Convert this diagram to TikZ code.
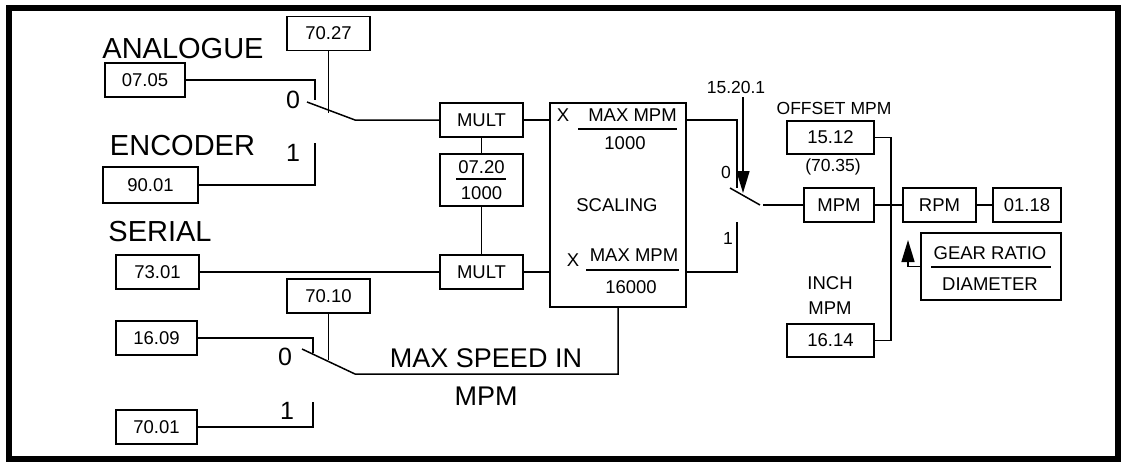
\documentclass[tikz,border=0pt]{standalone}
\usepackage{fontspec}
\setmainfont{Liberation Sans}
\usetikzlibrary{arrows.meta}

\tikzset{
  box/.style={draw, rectangle, inner sep=0pt, minimum height=34pt},
  lbl/.style={inner sep=0pt},
  big/.style={inner sep=0pt, font=\fontsize{29}{32}\selectfont},
  sel/.style={inner sep=0pt, font=\fontsize{25}{28}\selectfont},
  small/.style={inner sep=0pt, font=\fontsize{17.5}{20}\selectfont}
}

\begin{document}
\begin{tikzpicture}[x=1pt, y=-1pt, line width=1.5pt, every node/.style={font=\fontsize{18.5}{21}\selectfont}, >={Triangle[length=22pt, width=13pt]}]
	\useasboundingbox (0,0) rectangle (1121,464);
	\draw[line width=6pt] (9,8) rectangle (1118,459);
	% input boxes
	\node[box, minimum width=83pt] (p7027) at (328.5,33.5) {70.27};
	\node[box, minimum width=80pt] (p0705) at (145,80) {07.05};
	\node[box, minimum width=95pt, minimum height=36pt] (p9001) at (150.5,185) {90.01};
	\node[box, minimum width=83pt] (p7301) at (157.5,272) {73.01};
	\node[box, minimum width=83pt] (p7010) at (328.5,296) {70.10};
	\node[box, minimum width=81pt] (p1609) at (156.5,338) {16.09};
	\node[box, minimum width=81pt] (p7001) at (156.5,427) {70.01};
	\node[big] (tana) at (183,49) {ANALOGUE};
	\node[big] (tenc) at (182.5,146) {ENCODER};
	\node[big] (tser) at (160,232) {SERIAL};
	% analogue / encoder selector
	\coordinate (a0) at (315,100);
	\coordinate (a1) at (315,143);
	\coordinate (ab) at (307,102);
	\coordinate (ae) at (355,120);
	\node[sel] at (293,100) {0};
	\node[sel] at (293,153) {1};
	\draw (p0705.east) -- (a0 |- p0705.east) -- (a0);
	\draw (p9001.east) -- (a1 |- p9001.east) -- (a1);
	\draw (p7027.south) -- (328.5,113);
	% multipliers
	\node[box, minimum width=83pt] (mult1) at (481.5,120) {MULT};
	\node[box, minimum width=83pt, minimum height=52pt] (ratio) at (481.5,180) {};
	\node[box, minimum width=83pt] (mult2) at (481.5,272) {MULT};
	\node[lbl] at (481.5,167) {07.20};
	\draw (456,179) -- (506,179);
	\node[lbl] at (481.5,193) {1000};
	\draw (ab) -- (ae) -- (mult1.west);
	\draw (mult1) -- (ratio) -- (mult2);
	\draw (p7301.east) -- (mult2.west);
	% scaling
	\node[box, minimum width=136pt, minimum height=204pt] (scal) at (618,205) {};
	\node[lbl] at (563,115) {X};
	\node[lbl] at (632.5,115) {MAX MPM};
	\draw (578,129) -- (677,129);
	\node[lbl] at (625,143) {1000};
	\node[lbl] at (617,205) {SCALING};
	\node[lbl] at (573,260) {X};
	\node[lbl] at (634,255) {MAX MPM};
	\draw (586,270) -- (679,270);
	\node[lbl] at (631,287) {16000};
	\draw (mult1.east) -- (scal.west |- mult1.east);
	\draw (mult2.east) -- (scal.west |- mult2.east);
	% max speed selector
	\coordinate (m0) at (313,353);
	\coordinate (m1) at (313,402);
	\node[sel] at (285,357) {0};
	\node[sel] at (287,411) {1};
	\draw (p1609.east) -- (m0 |- p1609.east) -- (m0);
	\draw (p7001.east) -- (m1 |- p7001.east) -- (m1);
	\draw (p7010.south) -- (328.5,360);
	\draw (302,349) -- (355,374) -- (scal.south |- 0,374) -- (scal.south);
	\node[big, font=\fontsize{27}{30}\selectfont] at (486,358) {MAX SPEED IN};
	\node[big, font=\fontsize{27}{30}\selectfont] at (486,396) {MPM};
	% output selector
	\coordinate (s0) at (737,188);
	\coordinate (s1) at (737,222);
	\node[small] at (726,172) {0};
	\node[small] at (728,238) {1};
	\draw (scal.east |- 0,120) -- (s0 |- 0,120) -- (s0);
	\draw (scal.east |- 0,272) -- (s1 |- 0,272) -- (s1);
	\draw (730,188) -- (760,205);
	\node[small] (t1520) at (736,87) {15.20.1};
	\draw[->] (743,97) -- (743,193);
	% output chain
	\node[small] at (834,108) {OFFSET MPM};
	\node[box, minimum width=87pt, minimum height=33pt] (p1512) at (830.5,137.5) {15.12};
	\node[small] at (833,167) {(70.35)};
	\node[box, minimum width=70pt] (mpm) at (839,205) {MPM};
	\node[box, minimum width=73pt] (rpm) at (939.5,205) {RPM};
	\node[box, minimum width=68pt] (p0118) at (1027,205) {01.18};
	\node[box, minimum width=140pt, minimum height=67pt] (gear) at (991,266.5) {};
	\node[lbl] at (990,253) {GEAR RATIO};
	\draw (931,267) -- (1051,267);
	\node[lbl] at (990,284) {DIAMETER};
	\node[lbl] at (830,283) {INCH};
	\node[lbl] at (830,308) {MPM};
	\node[box, minimum width=87pt, minimum height=33pt] (p1614) at (830.5,340.5) {16.14};
	\draw (763,205) -- (mpm.west);
	\draw (mpm) -- (rpm) -- (p0118);
	\draw (p1512.east) -- (891,137.5) -- (891,340.5) -- (p1614.east);
	\draw[->] (gear.west) -- (908,266.5) -- (908,240);
\end{tikzpicture}
\end{document}
